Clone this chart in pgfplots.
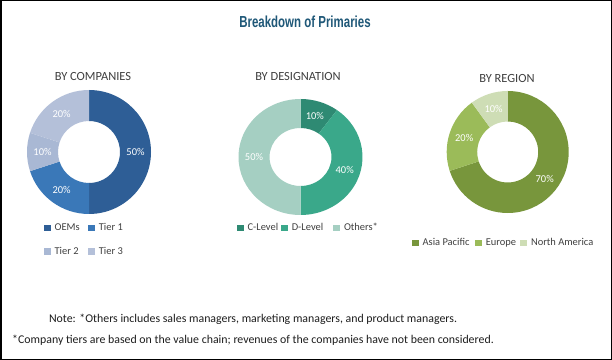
\documentclass[border=0pt]{standalone}
\usepackage{pgfplots}
\pgfplotsset{compat=1.18}
\usepackage{pgfplotstable}
\usepackage{fontspec}
\setmainfont{Carlito}
\newfontfamily\titlefont[FakeStretch=0.72]{Liberation Sans}

\definecolor{cOEM}{RGB}{46,94,150}
\definecolor{cTA}{RGB}{58,120,184}
\definecolor{cTB}{RGB}{169,184,212}
\definecolor{cTC}{RGB}{180,192,217}
\definecolor{cCL}{RGB}{46,138,115}
\definecolor{cDL}{RGB}{58,168,138}
\definecolor{cOT}{RGB}{165,207,194}
\definecolor{cAP}{RGB}{120,150,60}
\definecolor{cEU}{RGB}{155,187,89}
\definecolor{cNA}{RGB}{206,221,181}
\definecolor{titlec}{RGB}{31,88,120}
\definecolor{subc}{RGB}{64,64,64}

\pgfplotstableread{
label value color
OEMs 50 cOEM
Tier1 20 cTA
Tier2 10 cTB
Tier3 20 cTC
}\companies

\pgfplotstableread{
label value color
C-Level 10 cCL
D-Level 40 cDL
Others 50 cOT
}\designation

\pgfplotstableread{
label value color
AsiaPacific 70 cAP
Europe 20 cEU
NorthAmerica 10 cNA
}\region

\tikzset{pctlabel/.style={text=white, font=\fontsize{10.5}{12}\selectfont, inner sep=0pt}}

\pgfplotsset{donutax/.style={hide axis, clip=false, x=1bp, y=1bp,
  xmin=-70, xmax=70, ymin=-70, ymax=70, anchor=center,
  legend cell align=left,
  legend style={draw=none, fill=none, inner sep=0pt, outer sep=0pt, anchor=north west,
    font=\fontsize{10.5}{12}\selectfont, text=subc, nodes={inner sep=1bp}, row sep=13bp,
    /tikz/every odd column/.append style={column sep=3bp},
    /tikz/every even column/.append style={column sep=0bp}},
  legend image code/.code={\fill[##1, draw=none] (0bp,-3.3bp) rectangle (6.6bp,3.3bp);}}}

\newcommand\lw[2]{\makebox[#1bp][l]{#2}}

% #1 table, #2 outer rx, #3 outer ry, #4 inner rx, #5 inner ry
\newcommand\donut[5]{%
  \pgfplotstablegetrowsof{#1}%
  \pgfmathtruncatemacro\N{\pgfplotsretval-1}%
  \def\cum{0}%
  \pgfplotsforeachungrouped \i in {0,...,\N}{%
    \pgfplotstablegetelem{\i}{value}\of{#1}\let\val\pgfplotsretval
    \pgfplotstablegetelem{\i}{color}\of{#1}\let\slc\pgfplotsretval
    \pgfmathsetmacro\aS{90-3.6*\cum}%
    \pgfmathsetmacro\cum{\cum+\val}%
    \pgfmathsetmacro\aE{90-3.6*\cum}%
    \pgfmathsetmacro\aM{(\aS+\aE)/2}%
    \pgfmathsetmacro\xA{#2*cos(\aS)}\pgfmathsetmacro\yA{#3*sin(\aS)}%
    \pgfmathsetmacro\xB{#4*cos(\aE)}\pgfmathsetmacro\yB{#5*sin(\aE)}%
    \pgfmathsetmacro\xM{(#2+#4)/2*cos(\aM)}\pgfmathsetmacro\yM{(#3+#5)/2*sin(\aM)}%
    \edef\doit{\noexpand\fill[\slc] (axis cs:\xA,\yA) arc[start angle=\aS, end angle=\aE, x radius=#2bp, y radius=#3bp] -- (axis cs:\xB,\yB) arc[start angle=\aE, end angle=\aS, x radius=#4bp, y radius=#5bp] -- cycle;
      \noexpand\node[pctlabel] at (axis cs:\xM,\yM) {\val\noexpand\%};}%
    \doit
  }%
}

\begin{document}
\begin{tikzpicture}
\useasboundingbox (0bp,0bp) rectangle (612bp,360bp);
\fill[white] (0bp,0bp) rectangle (612bp,360bp);
\draw[line width=1.5bp] (0.75bp,0.75bp) rectangle (611.25bp,359.25bp);
\node[font=\titlefont\bfseries\fontsize{16}{18}\selectfont, text=titlec] at (305bp,338bp) {Breakdown of Primaries};
\node[font=\fontsize{12.5}{14}\selectfont, text=subc] at (93bp,283bp) {BY COMPANIES};
\node[font=\fontsize{12.5}{14}\selectfont, text=subc] at (298bp,283bp) {BY DESIGNATION};
\node[font=\fontsize{12.5}{14}\selectfont, text=subc] at (507bp,281bp) {BY REGION};

\begin{axis}[donutax, at={(89bp,208bp)}, legend columns=2,
  legend style={at={(axis cs:-45,-70.5)}}]
\donut{\companies}{62}{62}{31}{31}
\addlegendimage{fill=cOEM}\addlegendentry{\lw{32.6}{OEMs}}
\addlegendimage{fill=cTA}\addlegendentry{Tier 1}
\addlegendimage{fill=cTB}\addlegendentry{\lw{32.6}{Tier 2}}
\addlegendimage{fill=cTC}\addlegendentry{Tier 3}
\end{axis}

\begin{axis}[donutax, at={(300.5bp,203bp)}, legend columns=3,
  legend style={at={(axis cs:-63.5,-65.5)}}]
\donut{\designation}{62}{58}{31}{29}
\addlegendimage{fill=cCL}\addlegendentry{\lw{32.6}{C-Level}}
\addlegendimage{fill=cDL}\addlegendentry{\lw{40.6}{D-Level}}
\addlegendimage{fill=cOT}\addlegendentry{Others*}
\end{axis}

\begin{axis}[donutax, at={(507.7bp,208bp)}, legend columns=3,
  legend style={at={(axis cs:-95.7,-85.5)}}]
\donut{\region}{61}{61}{30.5}{30.5}
\addlegendimage{fill=cAP}\addlegendentry{\lw{51.6}{Asia Pacific}}
\addlegendimage{fill=cEU}\addlegendentry{\lw{33.6}{Europe}}
\addlegendimage{fill=cNA}\addlegendentry{North America}
\end{axis}

\node[font=\fontsize{11.9}{13}\selectfont, text={rgb,255:red,30;green,30;blue,30}] at (253bp,41bp) {Note: *Others includes sales managers, marketing managers, and product managers.};
\node[font=\fontsize{11.9}{13}\selectfont, text={rgb,255:red,30;green,30;blue,30}] at (253bp,20bp) {*Company tiers are based on the value chain; revenues of the companies have not been considered.};
\end{tikzpicture}
\end{document}
